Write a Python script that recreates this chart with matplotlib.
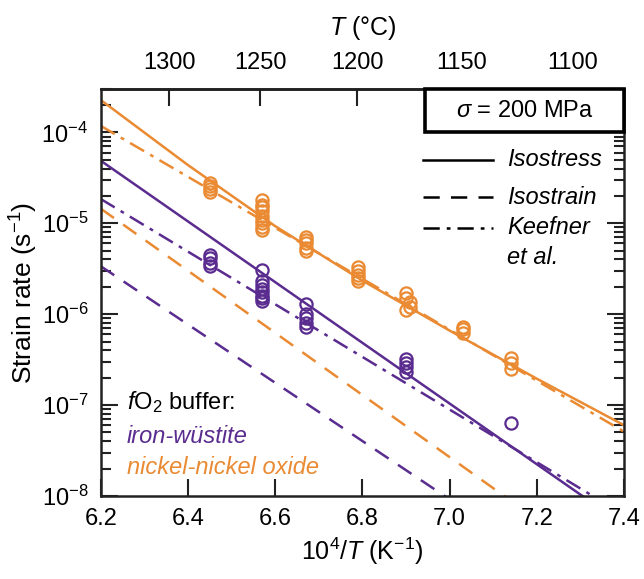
import numpy as np
import matplotlib
matplotlib.use('Agg')
import matplotlib.pyplot as plt
from matplotlib.patches import Rectangle
from matplotlib.ticker import LogLocator, NullFormatter

plt.rcParams['font.family'] = ['Liberation Sans', 'DejaVu Sans']
plt.rcParams['mathtext.fontset'] = 'custom'
plt.rcParams['mathtext.rm'] = 'Liberation Sans'
plt.rcParams['mathtext.it'] = 'Liberation Sans:italic'
plt.rcParams['mathtext.default'] = 'regular'

ORANGE = '#EA8A32'
PURPLE = '#5A2C8F'

# measured strain rates (10^4/T, s^-1)
nno_x = [6.45, 6.45, 6.45, 6.45,
         6.57, 6.57, 6.57, 6.57, 6.57, 6.57, 6.57, 6.57, 6.57,
         6.67, 6.67, 6.67, 6.67, 6.67,
         6.79, 6.79, 6.79, 6.79, 6.79,
         6.90, 6.90, 6.91, 6.91, 6.90,
         7.03, 7.03, 7.03,
         7.14, 7.14, 7.14]
nno_rate = [2.8e-5, 2.6e-5, 2.4e-5, 2.2e-5,
            1.8e-5, 1.6e-5, 1.5e-5, 1.35e-5, 1.2e-5, 1.1e-5, 1.0e-5, 9.2e-6, 8.5e-6,
            7.0e-6, 6.5e-6, 6.0e-6, 5.4e-6, 4.9e-6,
            3.3e-6, 3.0e-6, 2.7e-6, 2.5e-6, 2.3e-6,
            1.7e-6, 1.5e-6, 1.35e-6, 1.2e-6, 1.1e-6,
            7.3e-7, 6.8e-7, 6.2e-7,
            3.3e-7, 2.9e-7, 2.5e-7]

iw_x = [6.45, 6.45, 6.45, 6.45,
        6.57, 6.57, 6.57, 6.57, 6.57, 6.57, 6.57, 6.57,
        6.67, 6.67, 6.67, 6.67, 6.67,
        6.90, 6.90, 6.90, 6.90,
        7.14]
iw_rate = [4.5e-6, 4.1e-6, 3.7e-6, 3.4e-6,
           3.1e-6, 2.3e-6, 2.1e-6, 1.9e-6, 1.75e-6, 1.6e-6, 1.5e-6, 1.4e-6,
           1.3e-6, 1.0e-6, 9.0e-7, 8.0e-7, 7.2e-7,
           3.2e-7, 2.9e-7, 2.6e-7, 2.3e-7,
           6.3e-8]

# model curves
curve_x = [6.2, 6.4, 6.6, 6.8, 7.0, 7.2, 7.4]
nno_isostress = [2.27e-4, 4.37e-5, 9.3e-6, 2.34e-6, 6.6e-7, 1.95e-7, 6.0e-8]
line_x = [6.2, 7.4]
iw_isostress = [4.88e-5, 4.8e-9]
nno_isostrain = [1.45e-5, 1.15e-9]
iw_isostrain = [3.37e-6, 4.8e-10]
nno_keefner = [1.18e-4, 5.1e-8]
iw_keefner = [1.85e-5, 6.2e-9]

top_ticks = [1300, 1250, 1200, 1150, 1100]

DASH = (6.5, 4.5)
DASHDOT = (6.5, 2.8, 1.5, 2.8)

fig = plt.figure(figsize=(6.44, 5.79), dpi=100)
ax = fig.add_axes([0.1564, 0.1434, 0.8126, 0.7029])

lw = 1.8
ax.plot(curve_x, nno_isostress, color=ORANGE, lw=lw)
ax.plot(line_x, iw_isostress, color=PURPLE, lw=lw)
ax.plot(line_x, nno_isostrain, color=ORANGE, lw=lw, dashes=DASH)
ax.plot(line_x, iw_isostrain, color=PURPLE, lw=lw, dashes=DASH)
ax.plot(line_x, nno_keefner, color=ORANGE, lw=lw, dashes=DASHDOT)
ax.plot(line_x, iw_keefner, color=PURPLE, lw=lw, dashes=DASHDOT)

ax.plot(nno_x, nno_rate, 'o', mfc='none', mec=ORANGE, ms=8.8, mew=1.6)
ax.plot(iw_x, iw_rate, 'o', mfc='none', mec=PURPLE, ms=8.8, mew=1.6)

ax.set_yscale('log')
ax.set_xlim(6.2, 7.4)
ax.set_ylim(1e-8, 3e-4)
ax.set_xticks([6.2, 6.4, 6.6, 6.8, 7.0, 7.2, 7.4])
ax.set_xticklabels(['6.2', '6.4', '6.6', '6.8', '7.0', '7.2', '7.4'])
ax.yaxis.set_major_locator(LogLocator(base=10, numticks=10))
ax.yaxis.set_minor_locator(LogLocator(base=10, subs=np.arange(2, 10), numticks=20))
ax.yaxis.set_minor_formatter(NullFormatter())

for s in ax.spines.values():
    s.set_linewidth(1.8)
    s.set_color('#222222')
ax.tick_params(which='both', direction='in', top=False, right=True, width=1.5, colors='#222222',
               labelcolor='black', labelsize=17)
ax.tick_params(which='major', length=12, pad=9)
ax.tick_params(which='minor', length=7)

ax.set_xlabel('10$^4$/$\\mathit{T}$ (K$^{-1}$)', fontsize=18, labelpad=4)
ax.set_ylabel('Strain rate (s$^{-1}$)', fontsize=19, labelpad=1)

sec = ax.secondary_xaxis('top', functions=(lambda x: 1e4 / x - 273.15,
                                             lambda t: 1e4 / (t + 273.15)))
sec.set_xticks(top_ticks)
sec.set_xticklabels([str(t) for t in top_ticks])
sec.tick_params(direction='in', length=12, width=1.5, pad=11, labelsize=17, colors='#222222',
                labelcolor='black')
sec.spines['top'].set_linewidth(1.8)
sec.set_xlabel('$\\mathit{T}$ (°C)', fontsize=18, labelpad=12)

# stress box
box = Rectangle((0.6197, 0.894), 0.3803, 0.106, transform=ax.transAxes, facecolor='white',
                edgecolor='black', lw=2.6, zorder=10, clip_on=False)
ax.add_patch(box)
ax.text(0.81, 0.947, '$\\mathit{\\sigma}$ = 200 MPa', transform=ax.transAxes, ha='center',
        va='center', fontsize=17, zorder=11)

# line style key
key = [('Isostress', '-', 0.8256), ('Isostrain', (0, DASH), 0.7346),
       ('Keefner', (0, DASHDOT), 0.6585)]
for label, ls, y in key:
    ax.plot([0.616, 0.750], [y, y], transform=ax.transAxes, color='black', lw=lw, ls=ls)
    ax.text(0.7765, y, label, transform=ax.transAxes, ha='left', va='center',
            fontsize=17, style='italic')
ax.text(0.7765, 0.585, 'et al.', transform=ax.transAxes, ha='left', va='center',
        fontsize=17, style='italic')

# buffer labels
ax.text(0.05, 0.232, '$\\mathit{f}$O$_2$ buffer:', transform=ax.transAxes, ha='left',
        va='center', fontsize=17)
ax.text(0.05, 0.146, 'iron-wüstite', transform=ax.transAxes, ha='left', va='center',
        fontsize=17, style='italic', color=PURPLE)
ax.text(0.05, 0.069, 'nickel-nickel oxide', transform=ax.transAxes, ha='left', va='center',
        fontsize=17, style='italic', color=ORANGE)

fig.savefig('out.png', dpi=100)
plt.close(fig)
